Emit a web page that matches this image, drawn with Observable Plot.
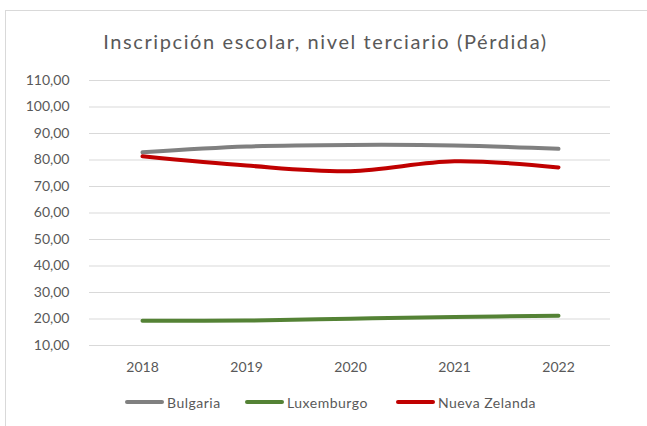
<!DOCTYPE html>
<html>
<head>
<meta charset="utf-8">
<script src="https://cdn.jsdelivr.net/npm/d3@7"></script>
<script src="https://cdn.jsdelivr.net/npm/@observablehq/plot@0.6"></script>
<style>
  html, body { margin: 0; padding: 0; background: #fff; }
  body { width: 647px; height: 426px; position: relative; overflow: hidden; font-family: Lato, "Open Sans", sans-serif; }
  #frame { position: absolute; left: 5px; top: 10px; width: 700px; height: 500px; border: 1px solid #d9d9d9; box-sizing: border-box; }
  #title { position: absolute; left: 0; top: 29px; width: 651px; text-align: center; font-size: 20px; letter-spacing: 1.6px; font-weight: 400; color: #595959; }
  #chart { position: absolute; left: 0; top: 60px; }
  #legend { position: absolute; left: 0; top: 392px; width: 647px; height: 20px; font-size: 14px; letter-spacing: 0.5px; color: #595959; }
  .item { position: absolute; top: 0; display: flex; align-items: center; height: 20px; }
  .sw { width: 39px; height: 4px; border-radius: 2px; margin-right: 3px; }
</style>
</head>
<body>
<div id="frame"></div>
<div id="title">Inscripción escolar, nivel terciario (Pérdida)</div>
<div id="chart"></div>
<div id="legend"></div>
<script>
const years = ["2018", "2019", "2020", "2021", "2022"];
const seriesNames = ["Bulgaria", "Luxemburgo", "Nueva Zelanda"];
const seriesColors = ["#808080", "#548235", "#C00000"];
const bulgaria = [82.9, 85.1, 85.7, 85.5, 84.2];
const luxemburgo = [19.3, 19.4, 20.1, 20.8, 21.2];
const nuevaZelanda = [81.4, 77.9, 75.8, 79.5, 77.2];
const yTicks = [10, 20, 30, 40, 50, 60, 70, 80, 90, 100, 110];

const allSeries = [bulgaria, luxemburgo, nuevaZelanda];
const data = [];
seriesNames.forEach((name, i) => {
  years.forEach((yr, j) => data.push({ serie: name, year: yr, value: allSeries[i][j] }));
});

const fmt = d => d.toFixed(2).replace(".", ",");

const plot = Plot.plot({
  width: 647,
  height: 330,
  marginLeft: 89,
  marginRight: 37,
  marginTop: 20,
  marginBottom: 45,
  style: { fontFamily: "Lato, 'Open Sans', sans-serif", fontSize: "14px", color: "#595959", background: "transparent" },
  x: { type: "point", domain: years, padding: 0.5, label: null },
  y: { domain: [10, 110], ticks: yTicks, label: null },
  color: { domain: seriesNames, range: seriesColors },
  marks: [
    Plot.gridY(yTicks, { stroke: "#d9d9d9", strokeOpacity: 1, strokeWidth: 1 }),
    Plot.axisY(yTicks, { tickSize: 0, tickPadding: 20, tickFormat: fmt, fill: "#595959", fontSize: 14, label: null }),
    Plot.axisX({ tickSize: 0, tickPadding: 17, fill: "#595959", fontSize: 14, label: null }),
    Plot.line(data, { x: "year", y: "value", z: "serie", stroke: "serie", strokeWidth: 4, curve: "catmull-rom", strokeLinecap: "round" })
  ]
});
document.getElementById("chart").appendChild(plot);

const legendLefts = [125, 245, 396];
const legend = document.getElementById("legend");
seriesNames.forEach((name, i) => {
  const item = document.createElement("div");
  item.className = "item";
  item.style.left = legendLefts[i] + "px";
  const sw = document.createElement("div");
  sw.className = "sw";
  sw.style.background = seriesColors[i];
  const tx = document.createElement("span");
  tx.textContent = name;
  item.appendChild(sw);
  item.appendChild(tx);
  legend.appendChild(item);
});
</script>
</body>
</html>
